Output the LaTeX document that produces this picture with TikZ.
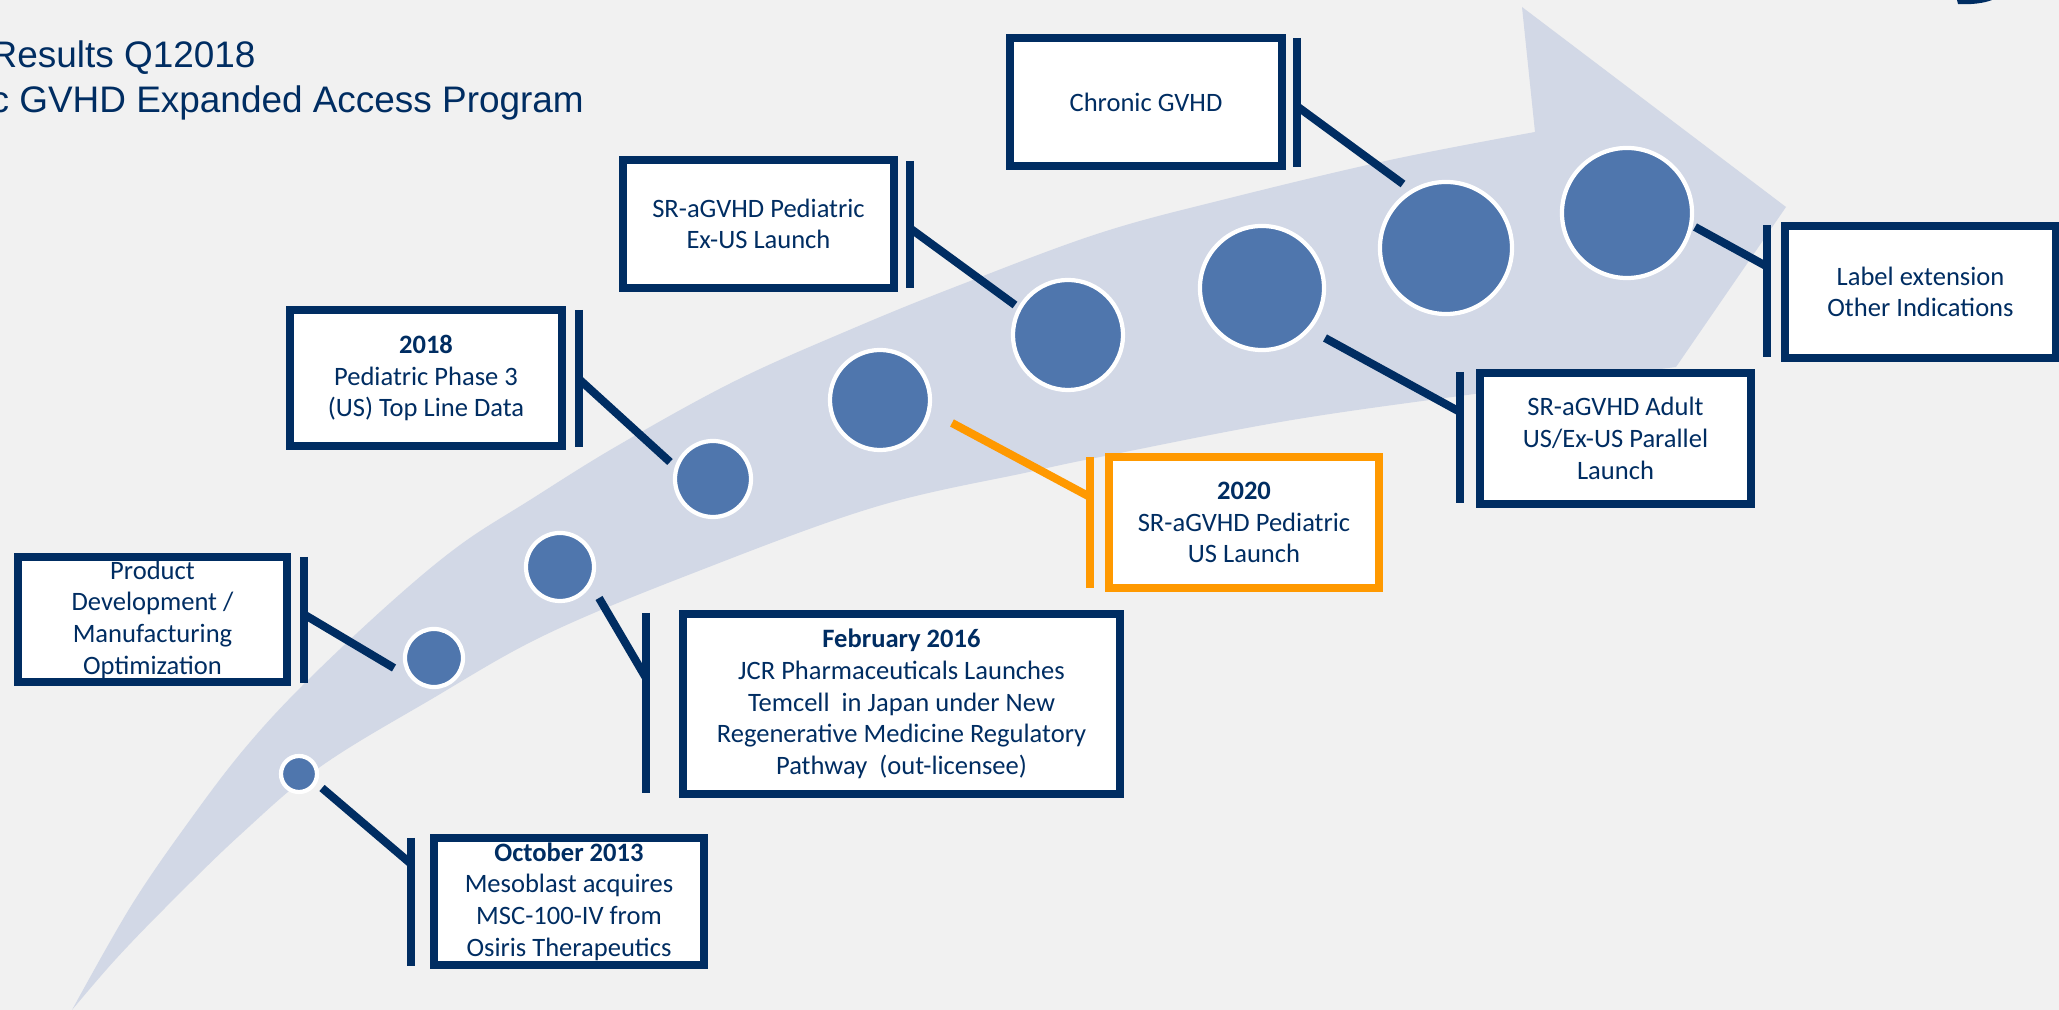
\documentclass[tikz,border=0pt]{standalone}
\usepackage{fontspec}
\setmainfont{Carlito}
\newfontfamily\ttlface{Liberation Sans}
\definecolor{bgc}{RGB}{241,241,241}
\definecolor{bandc}{RGB}{210,216,230}
\definecolor{navy}{RGB}{0,45,98}
\definecolor{dotc}{RGB}{79,118,173}
\definecolor{orng}{RGB}{255,153,0}
\newcommand\bxfont{\fontsize{7.55}{9.0}\selectfont}
\newcommand\ttlfont{\ttlface\fontsize{10.5}{12.8}\selectfont}
\begin{document}
\begin{tikzpicture}[x=0.01cm, y=-0.01cm,
  box/.style={draw=navy, line width=2.4pt, fill=white, text=navy, align=center, inner sep=0pt, font=\bxfont},
  obox/.style={box, draw=orng},
  dot/.style={circle, fill=dotc, draw=white, line width=1.2pt, inner sep=0pt},
  bar/.style={draw=navy, line width=2.3pt},
  obar/.style={draw=orng, line width=2.3pt},
  link/.style={draw=navy, line width=2.3pt},
  olink/.style={draw=orng, line width=2.3pt},
  ttl/.style={anchor=base west, text=navy, inner sep=0pt, font=\ttlfont}]
\useasboundingbox (0,0) rectangle (2059,1010);
\fill[bgc] (0,0) rectangle (2059,1010);

% big curved arrow
\fill[bandc] plot[smooth, tension=0.6] coordinates {(72,1010) (131,906) (190,820) (245,748) (305,683) (390,603) (460,545) (530,500) (617,446) (735,381) (854,328) (960,285) (1100,233) (1230,198) (1390,160) (1535,132)}
  -- (1522,7) -- (1786,207) -- (1676,367)
  -- plot[smooth, tension=0.6] coordinates {(1676,367) (1489,392) (1292,420) (1110,455) (1029,472) (875,507) (696,572) (545,635) (430,700) (320,767) (240,835) (168,905) (115,960) (72,1010)} -- cycle;

% logo sliver
\fill[navy] (1957,0) -- (1992,0) .. controls (1985,3) and (1970,5) .. (1958,4) -- cycle;

% title
\node[ttl] (t1) at (-10,68) {Results Q12018};
\node[ttl] (t2) at (-10,113) {c GVHD Expanded Access Program};

% milestone dots
\node[dot, minimum size=0.36cm] (d1) at (299,774) {};
\node[dot, minimum size=0.58cm] (d2) at (434,658) {};
\node[dot, minimum size=0.68cm] (d3) at (560,567) {};
\node[dot, minimum size=0.76cm] (d4) at (713,479) {};
\node[dot, minimum size=1.00cm] (d5) at (880,400) {};
\node[dot, minimum size=1.10cm] (d6) at (1068,335) {};
\node[dot, minimum size=1.24cm] (d7) at (1262,288) {};
\node[dot, minimum size=1.32cm] (d8) at (1446,248) {};
\node[dot, minimum size=1.30cm] (d9) at (1627,213) {};

% connector end points
\coordinate (ka) at (394,668);  \coordinate (ba) at (305,615);
\coordinate (kb) at (322,788);  \coordinate (bb) at (410,863);
\coordinate (kc) at (599,598);  \coordinate (bc) at (646,678);
\coordinate (kd) at (670,462);  \coordinate (bd) at (580,380);
\coordinate (ke) at (1015,305); \coordinate (be) at (911,229);
\coordinate (kf) at (1403,184); \coordinate (bf) at (1298,107);
\coordinate (kg) at (1695,227); \coordinate (bg) at (1766,266);
\coordinate (kh) at (1325,338); \coordinate (bh) at (1460,412);
\coordinate (ki) at (952,423);  \coordinate (bi) at (1090,497);

\draw[link] (ka) -- (ba);
\draw[link] (kb) -- (bb);
\draw[link] (kc) -- (bc);
\draw[link] (kd) -- (bd);
\draw[link] (ke) -- (be);
\draw[link] (kf) -- (bf);
\draw[link] (kg) -- (bg);
\draw[link] (kh) -- (bh);
\draw[olink] (ki) -- (bi);

% bars
\draw[bar] (304,557) -- (304,683);
\draw[bar] (411,838) -- (411,966);
\draw[bar] (646,613) -- (646,793);
\draw[bar] (579,310) -- (579,447);
\draw[bar] (910,161) -- (910,288);
\draw[bar] (1297,38) -- (1297,167);
\draw[bar] (1767,225) -- (1767,357);
\draw[bar] (1460,372) -- (1460,503);
\draw[obar] (1090,457) -- (1090,588);

% boxes
\node[box, minimum width=2.69cm, minimum height=1.25cm] (bxa) at (152.5,619.5)
  {Product\\Development /\\Manufacturing\\Optimization};
\node[box, minimum width=2.70cm, minimum height=1.27cm] (bxb) at (569,901.5)
  {\textbf{October 2013}\\Mesoblast acquires\\MSC-100-IV from\\Osiris Therapeutics};
\node[box, minimum width=4.37cm, minimum height=1.80cm] (bxc) at (901.5,704)
  {\textbf{February 2016}\\JCR Pharmaceuticals Launches\\Temcell\ \ in Japan under New\\Regenerative Medicine Regulatory\\Pathway\ \ (out-licensee)};
\node[box, minimum width=2.72cm, minimum height=1.36cm] (bxd) at (426,378)
  {\textbf{2018}\\Pediatric Phase 3\\(US) Top Line Data};
\node[box, minimum width=2.71cm, minimum height=1.28cm] (bxe) at (758.5,224)
  {SR-aGVHD Pediatric\\Ex-US Launch};
\node[box, minimum width=2.72cm, minimum height=1.28cm] (bxf) at (1146,102)
  {Chronic GVHD};
\node[box, minimum width=2.71cm, minimum height=1.32cm] (bxg) at (1920.5,292)
  {Label extension\\Other Indications};
\node[box, minimum width=2.71cm, minimum height=1.31cm] (bxh) at (1615.5,438.5)
  {SR-aGVHD Adult\\US/Ex-US Parallel\\Launch};
\node[obox, minimum width=2.70cm, minimum height=1.31cm] (bxi) at (1244,522.5)
  {\textbf{2020}\\SR-aGVHD Pediatric\\US Launch};
\end{tikzpicture}
\end{document}
